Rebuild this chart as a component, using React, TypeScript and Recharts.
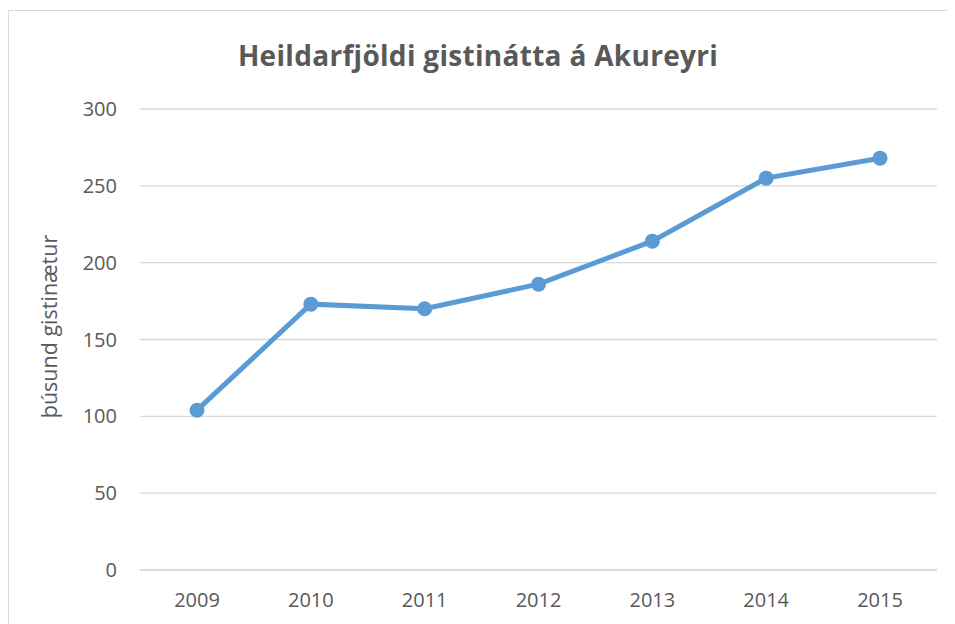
import { LineChart, Line, XAxis, YAxis, CartesianGrid } from "recharts";

const years = ["2009", "2010", "2011", "2012", "2013", "2014", "2015"];
const gistinaetur = [104, 173, 170, 186, 214, 255, 268];
const yTicks = [0, 50, 100, 150, 200, 250, 300];

const data = years.map((year, i) => ({ year, value: gistinaetur[i] }));

const textColor = "#595959";
const gridColor = "#d9d9d9";
const lineColor = "#5b9bd5";
const font = "'Open Sans', sans-serif";

const YLabel = (props: { viewBox?: { x: number; y: number; width: number; height: number } }) => {
  const vb = props.viewBox;
  if (!vb) return null;
  const cx = 40;
  const cy = vb.y + vb.height / 2 - 13;
  return (
    <text
      x={cx}
      y={cy}
      transform={`rotate(-90, ${cx}, ${cy})`}
      textAnchor="middle"
      dominantBaseline="central"
      fill={textColor}
      fontSize={21.5}
      fontFamily={font}
    >
      þúsund gistinætur
    </text>
  );
};

export default function App() {
  return (
    <div style={{ position: "relative", width: 947, height: 616 }}>
      <style>{`html, body { overflow: hidden; }`}</style>
      <div
        style={{
          position: "absolute",
          top: 2,
          left: 0,
          width: 960,
          height: 640,
          borderTop: `1.5px solid ${gridColor}`,
          borderLeft: `1.5px solid ${gridColor}`,
          boxSizing: "border-box",
          pointerEvents: "none",
        }}
      />
      <div
        style={{
          position: "absolute",
          top: 28,
          left: 0,
          width: 940,
          textAlign: "center",
          fontFamily: font,
          fontWeight: 700,
          fontSize: 28,
          letterSpacing: 0.3,
          lineHeight: "38px",
          color: textColor,
        }}
      >
        Heildarfjöldi gistinátta á Akureyri
      </div>
      <LineChart
        width={947}
        height={616}
        data={data}
        margin={{ top: 101, right: 18, left: 0, bottom: 0 }}
      >
        <CartesianGrid
          vertical={false}
          stroke={gridColor}
          strokeWidth={1.3}
        />
        <XAxis
          dataKey="year"
          height={54}
          padding={{ left: 57, right: 57 }}
          axisLine={{ stroke: gridColor, strokeWidth: 1.3 }}
          tickLine={false}
          tickSize={0}
          tickMargin={23}
          tick={{ fill: textColor, fontSize: 20, fontFamily: font }}
        />
        <YAxis
          width={132}
          domain={[0, 300]}
          ticks={yTicks}
          axisLine={false}
          tickLine={false}
          tickSize={0}
          tickMargin={23}
          tick={{ fill: textColor, fontSize: 20, fontFamily: font }}
          label={<YLabel />}
        />
        <Line
          type="linear"
          dataKey="value"
          stroke={lineColor}
          strokeWidth={5}
          dot={{ r: 7.5, fill: lineColor, stroke: "none" }}
          activeDot={false}
          isAnimationActive={false}
        />
      </LineChart>
    </div>
  );
}
